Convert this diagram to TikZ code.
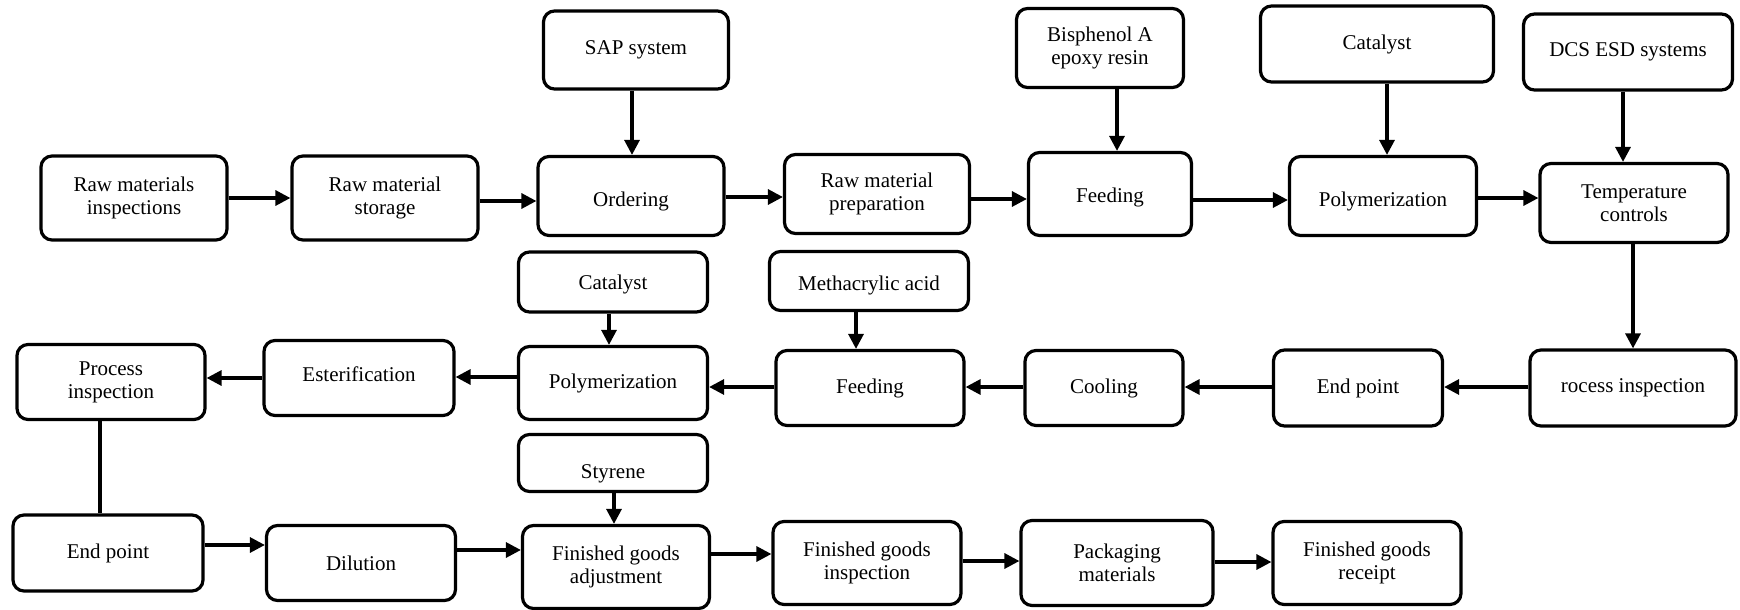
\documentclass[tikz,border=0pt]{standalone}
\usepackage{fontspec}
\setmainfont{Liberation Serif}
\newfontfamily\boxfont{Liberation Serif}
\usetikzlibrary{arrows.meta}
\tikzset{
  box/.style={draw, line width=3.2pt, rounded corners=11pt, align=center,
    inner sep=0pt, font=\boxfont\fontsize{21}{23}\selectfont},
  arr/.style={line width=3.2pt, -{Triangle[length=15pt,width=15pt]}},
  link/.style={line width=3.2pt}
}
% \bx{name}{cx}{cy}{width}{height}{text}
\newcommand\bx[6]{\node[box, minimum width=#4pt, minimum height=#5pt] (#1) at (#2,#3) {#6};}
% same, with the one-line text raised by #7 (negative lowers it)
\newcommand\bxs[7]{\node[box, minimum width=#4pt, minimum height=#5pt] (#1) at (#2,#3) {\raisebox{#7}[\height][\depth]{#6}};}
\begin{document}
\begin{tikzpicture}[x=1pt,y=-1pt]
\useasboundingbox (0,0) rectangle (1740,610);
% first row and its inputs
\bx{rmi}{134}{198}{186}{84}{Raw materials\\inspections}
\bx{rms}{385}{198}{186}{84}{Raw material\\storage}
\bxs{ord}{631}{196}{186}{79}{Ordering}{-5.5pt}
\bx{rmp}{877}{194}{185}{79}{Raw material\\preparation}
\bxs{feedA}{1110}{194}{163}{83}{Feeding}{-3pt}
\bxs{polyA}{1383}{196}{187}{79}{Polymerization}{-5pt}
\bx{temp}{1634}{203}{188}{79}{Temperature\\controls}
\bx{sap}{636}{50}{185}{78}{SAP system}
\bx{bpa}{1100}{48}{167}{79}{Bisphenol A\\epoxy resin}
\bx{catA}{1377}{44}{233}{76}{Catalyst}
\bx{dcs}{1628}{52}{209}{76}{DCS ESD systems}
% second row
\bxs{catB}{613}{282}{189}{60}{Catalyst}{-2pt}
\bxs{maa}{869}{281}{199}{59}{Methacrylic acid}{-4pt}
\bx{piB}{111}{382}{188}{75}{Process\\inspection}
\bxs{est}{359}{378}{190}{75}{Esterification}{4pt}
\bx{polyB}{613}{383}{189}{73}{Polymerization}
\bx{feedB}{870}{388}{188}{75}{Feeding}
\bx{cool}{1104}{388}{158}{75}{Cooling}
\bx{epA}{1358}{388}{169}{76}{End point}
\bx{piA}{1633}{388}{206}{76}{rocess inspection}
% third row
\bxs{sty}{613}{463}{189}{57}{Styrene}{-11pt}
\bx{epB}{108}{553}{190}{76}{End point}
\bx{dil}{361}{563}{189}{75}{Dilution}
\bx{fga}{616}{567}{187}{83}{Finished goods\\adjustment}
\bx{fgi}{867}{563}{188}{83}{Finished goods\\inspection}
\bx{pkg}{1117}{563}{192}{85}{Packaging\\materials}
\bx{fgr}{1367}{563}{188}{83}{Finished goods\\receipt}
% first row flow
\draw[arr] (rmi.east |- 0,198) -- (rms.west |- 0,198);
\draw[arr] (rms.east |- 0,201) -- (ord.west |- 0,201);
\draw[arr] (ord.east |- 0,197) -- (rmp.west |- 0,197);
\draw[arr] (rmp.east |- 0,199) -- (feedA.west |- 0,199);
\draw[arr] (feedA.east |- 0,200) -- (polyA.west |- 0,200);
\draw[arr] (polyA.east |- 0,198) -- (temp.west |- 0,198);
\draw[arr] (sap.south -| 632,0) -- (ord.north -| 632,0);
\draw[arr] (bpa.south -| 1117,0) -- (feedA.north -| 1117,0);
\draw[arr] (catA.south -| 1387,0) -- (polyA.north -| 1387,0);
\draw[arr] (dcs.south -| 1623,0) -- (temp.north -| 1623,0);
\draw[arr] (temp.south -| 1633,0) -- (piA.north -| 1633,0);
% second row flow
\draw[arr] (piA.west |- 0,387) -- (epA.east |- 0,387);
\draw[arr] (epA.west |- 0,387) -- (cool.east |- 0,387);
\draw[arr] (cool.west |- 0,387) -- (feedB.east |- 0,387);
\draw[arr] (feedB.west |- 0,387) -- (polyB.east |- 0,387);
\draw[arr] (polyB.west |- 0,377) -- (est.east |- 0,377);
\draw[arr] (est.west |- 0,378) -- (piB.east |- 0,378);
\draw[arr] (catB.south -| 609,0) -- (polyB.north -| 609,0);
\draw[arr] (maa.south -| 856,0) -- (feedB.north -| 856,0);
\draw[link] (piB.south -| 100,0) -- (epB.north -| 100,0);
% third row flow
\draw[arr] (epB.east |- 0,545) -- (dil.west |- 0,545);
\draw[arr] (dil.east |- 0,550) -- (fga.west |- 0,550);
\draw[arr] (sty.south -| 614,0) -- (fga.north -| 614,0);
\draw[arr] (fga.east |- 0,554) -- (fgi.west |- 0,554);
\draw[arr] (fgi.east |- 0,561) -- (pkg.west |- 0,561);
\draw[arr] (pkg.east |- 0,562) -- (fgr.west |- 0,562);
\end{tikzpicture}
\end{document}
